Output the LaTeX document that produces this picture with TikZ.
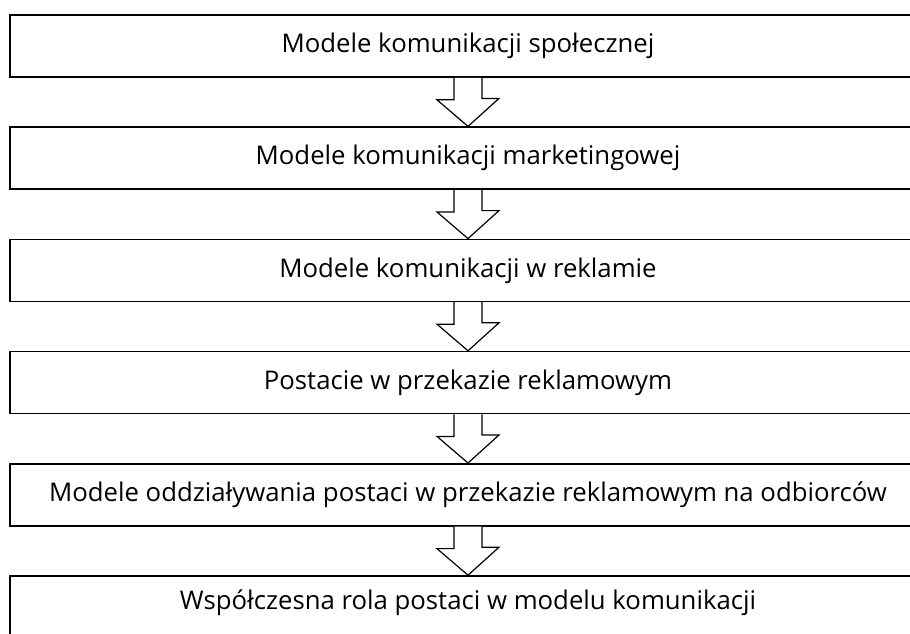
\documentclass[tikz,border=0pt]{standalone}
\usepackage{fontspec}
\setmainfont{Open Sans}
\usetikzlibrary{calc}
\begin{document}
\begin{tikzpicture}[x=0.75pt,y=-0.75pt,
  box/.style={draw=black, line width=1.2pt, fill=white, inner sep=0pt,
    minimum width=687pt, minimum height=46.5pt,
    font=\fontsize{19.3}{23}\selectfont},
  arr/.style={draw=black, line width=0.9pt, fill=white, line join=miter}]
\useasboundingbox (0,0) rectangle (910,633);
\clip (0,0) rectangle (910,633);
\node[box] (b1) at (468,46) {Modele komunikacji społecznej};
\node[box] (b2) at (468,158.2) {Modele komunikacji marketingowej};
\node[box] (b3) at (468,270.4) {Modele komunikacji w reklamie};
\node[box] (b4) at (468,382.6) {Postacie w przekazie reklamowym};
\node[box] (b5) at (468,494.8) {Modele oddziaływania postaci w przekazie reklamowym na odbiorców};
\node[box] (b6) at (468,607) {};
\node[font=\fontsize{19.3}{23}\selectfont] (t6) at (468,603) {Współczesna rola postaci w modelu komunikacji};
\foreach \a/\b in {b1/b2,b2/b3,b3/b4,b4/b5,b5/b6}{
  \draw[arr] ($(\a.south)+(-14,0)$) -- ++(0,22) -- ++(-17,0) -- (\b.north)
    -- ++(31,-28) -- ++(-17,0) -- ($(\a.south)+(14,0)$);
}
\end{tikzpicture}
\end{document}
